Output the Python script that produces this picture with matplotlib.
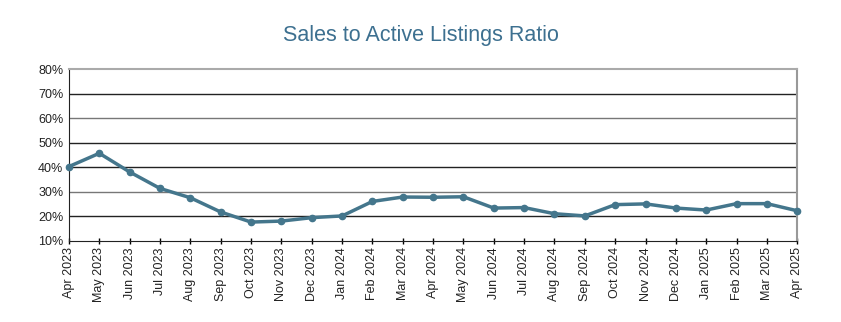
import matplotlib
matplotlib.use("Agg")
import matplotlib.pyplot as plt
from matplotlib.ticker import FuncFormatter

months = ["Apr 2023", "May 2023", "Jun 2023", "Jul 2023", "Aug 2023", "Sep 2023",
          "Oct 2023", "Nov 2023", "Dec 2023", "Jan 2024", "Feb 2024", "Mar 2024",
          "Apr 2024", "May 2024", "Jun 2024", "Jul 2024", "Aug 2024", "Sep 2024",
          "Oct 2024", "Nov 2024", "Dec 2024", "Jan 2025", "Feb 2025", "Mar 2025",
          "Apr 2025"]
ratio = [40.3, 45.7, 38.1, 31.4, 27.6, 21.8, 17.7, 18.1, 19.5, 20.2, 26.1, 27.9,
         27.8, 28.0, 23.4, 23.6, 21.1, 20.2, 24.8, 25.1, 23.4, 22.6, 25.2, 25.2,
         22.3]
yticks = [10, 20, 30, 40, 50, 60, 70, 80]

plt.rcParams['font.family'] = ['Liberation Sans', 'DejaVu Sans']

fig = plt.figure(figsize=(8.41, 3.22), dpi=100)
ax = fig.add_axes([0.082, 0.2516, 0.866, 0.534])

x = list(range(len(months)))
for t in yticks[1:-1]:
    col = "#777777" if t in (30, 60) else "#222222"
    ax.axhline(t, color=col, lw=1.0, zorder=1)
ax.plot(x, ratio, color="#44768c", lw=2.5, marker="o", ms=4.5, zorder=3,
        clip_on=False)

ax.set_xlim(0, len(months) - 1)
ax.set_ylim(10, 80)
ax.set_yticks(yticks)
ax.yaxis.set_major_formatter(FuncFormatter(lambda v, p: f"{int(v)}%"))
ax.set_xticks(x)
ax.set_xticklabels(months, rotation=90, fontsize=9, color="#222222")
ax.tick_params(axis="y", labelsize=9, length=0, pad=4, labelcolor="#222222")
ax.tick_params(axis="x", length=5, width=1, direction="inout", pad=2)

ax.spines["left"].set_color("#222222")
ax.spines["bottom"].set_color("#222222")
ax.spines["top"].set_color("#aaaaaa")
ax.spines["right"].set_color("#999999")
ax.spines["right"].set_linewidth(1.5)
ax.spines["top"].set_linewidth(1.5)

fig.text(0.5, 0.89, "Sales to Active Listings Ratio", ha="center", va="center",
         fontsize=15.5, color="#3d7090")

fig.savefig("out.png", dpi=100)
